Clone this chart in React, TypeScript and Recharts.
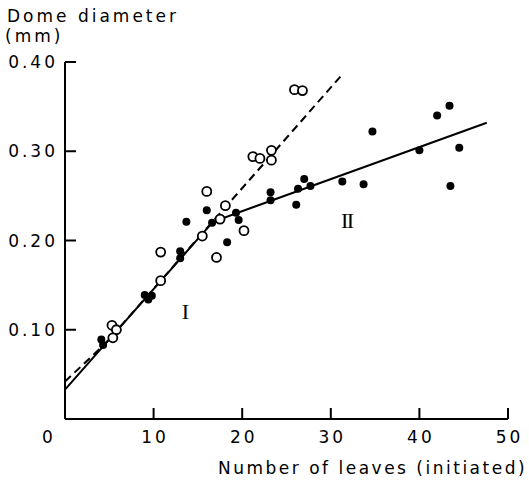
import React from 'react';
import { ComposedChart, XAxis, YAxis, Scatter, Line, ReferenceDot } from 'recharts';

// Axis ticks
const xTicks = [0, 10, 20, 30, 40, 50];
const yTicks = [0.1, 0.2, 0.3, 0.4];

// Open circles (series I, dashed regression)
const openLeaves = [5.3, 5.8, 5.4, 10.8, 10.8, 15.5, 16.0, 17.1, 17.5, 18.1, 20.2, 21.2, 22.0, 23.3, 23.3, 25.9, 26.8];
const openDiameter = [0.105, 0.1, 0.091, 0.187, 0.155, 0.205, 0.255, 0.181, 0.224, 0.239, 0.211, 0.294, 0.292, 0.301, 0.29, 0.369, 0.368];

// Filled dots (series II, solid broken line)
const filledLeaves = [4.1, 4.3, 9.0, 9.4, 9.8, 13.0, 13.0, 13.7, 16.0, 16.6, 18.3, 19.3, 19.6, 23.2, 23.2, 26.1, 26.3, 27.0, 27.7, 31.3, 33.7, 34.7, 40.0, 42.0, 43.4, 43.5, 44.5];
const filledDiameter = [0.089, 0.083, 0.139, 0.134, 0.138, 0.188, 0.18, 0.221, 0.234, 0.22, 0.198, 0.231, 0.223, 0.254, 0.245, 0.24, 0.258, 0.269, 0.261, 0.266, 0.263, 0.322, 0.301, 0.34, 0.351, 0.261, 0.304];

// Fitted lines
const solidLeaves = [0, 16.7, 47.6];
const solidDiameter = [0.033, 0.221, 0.332];
const dashedLeaves = [0, 4.5, 31.3];
const dashedDiameter = [0.042, 0.084, 0.386];

const zip = (xs: number[], ys: number[]) => xs.map((x, i) => ({ x, y: ys[i] }));

const openData = zip(openLeaves, openDiameter);
const filledData = zip(filledLeaves, filledDiameter);
const solidData = zip(solidLeaves, solidDiameter);
const dashedData = zip(dashedLeaves, dashedDiameter);

const FONT = '"DejaVu Sans", sans-serif';
const TICK_LEN = 11;
const INK = '#000';

const XTick = (props: any) => {
  const { x, y, payload } = props;
  const v = payload.value;
  return (
    <text
      x={v === 0 ? x - 16 : x + 1.5}
      y={y}
      textAnchor="middle"
      fontFamily={FONT}
      fontSize={17}
      letterSpacing={3}
      fill={INK}
    >
      {v}
    </text>
  );
};

const YTick = (props: any) => {
  const { x, y, payload } = props;
  return (
    <text
      x={x + 3}
      y={y}
      dy="0.36em"
      textAnchor="end"
      fontFamily={FONT}
      fontSize={17}
      letterSpacing={3}
      fill={INK}
    >
      {payload.value.toFixed(2)}
    </text>
  );
};

const FilledDot = (props: any) => <circle cx={props.cx} cy={props.cy} r={4} fill={INK} />;
const OpenDot = (props: any) => (
  <circle cx={props.cx} cy={props.cy} r={4.5} fill="#fff" stroke={INK} strokeWidth={1.8} />
);

const numeral = (value: string) => (p: any) => {
  const { viewBox } = p;
  const cx = viewBox.x + (viewBox.width || 0) / 2;
  const cy = viewBox.y + (viewBox.height || 0) / 2;
  return (
    <text
      x={cx}
      y={cy}
      dy="0.36em"
      textAnchor="middle"
      fontFamily='"Liberation Serif", serif'
      fontSize={22}
      letterSpacing={-1.5}
      fill={INK}
    >
      {value}
    </text>
  );
};

export default function App() {
  return (
    <div style={{ position: 'absolute', left: 0, top: 0, background: '#fff' }}>
      <ComposedChart
        width={529}
        height={480}
        margin={{ top: 62, right: 21, bottom: 0, left: 0 }}
      >
        <XAxis
          type="number"
          dataKey="x"
          domain={[0, 50]}
          ticks={xTicks}
          height={61}
          stroke={INK}
          tickSize={-TICK_LEN}
          tickMargin={24 + TICK_LEN}
          axisLine={{ stroke: INK, strokeWidth: 2 }}
          tickLine={{ stroke: INK, strokeWidth: 2 }}
          tick={<XTick />}
        />
        <YAxis
          type="number"
          dataKey="y"
          domain={[0, 0.4]}
          ticks={yTicks}
          width={65}
          stroke={INK}
          tickSize={-TICK_LEN}
          tickMargin={10 + TICK_LEN}
          axisLine={{ stroke: INK, strokeWidth: 2 }}
          tickLine={{ stroke: INK, strokeWidth: 2 }}
          tick={<YTick />}
        />
        <Line
          data={dashedData}
          dataKey="y"
          type="linear"
          stroke={INK}
          strokeWidth={2}
          strokeDasharray="8 5"
          dot={false}
          activeDot={false}
          isAnimationActive={false}
        />
        <Line
          data={solidData}
          dataKey="y"
          type="linear"
          stroke={INK}
          strokeWidth={2}
          dot={false}
          activeDot={false}
          isAnimationActive={false}
        />
        <Scatter data={openData} dataKey="y" shape={<OpenDot />} isAnimationActive={false} />
        <Scatter data={filledData} dataKey="y" shape={<FilledDot />} isAnimationActive={false} />
        <ReferenceDot x={13.5} y={0.121} r={0} stroke="none" fill="none" label={numeral('I')} />
        <ReferenceDot x={31.8} y={0.223} r={0} stroke="none" fill="none" label={numeral('II')} />
        <text x={7} y={22} fontFamily={FONT} fontSize={17} letterSpacing={3} fill={INK}>
          Dome diameter
        </text>
        <text x={5} y={42} fontFamily={FONT} fontSize={17} letterSpacing={3} fill={INK}>
          (mm)
        </text>
        <text x={218} y={474} fontFamily={FONT} fontSize={17} letterSpacing={2.5} fill={INK}>
          Number of leaves (initiated)
        </text>
      </ComposedChart>
    </div>
  );
}
